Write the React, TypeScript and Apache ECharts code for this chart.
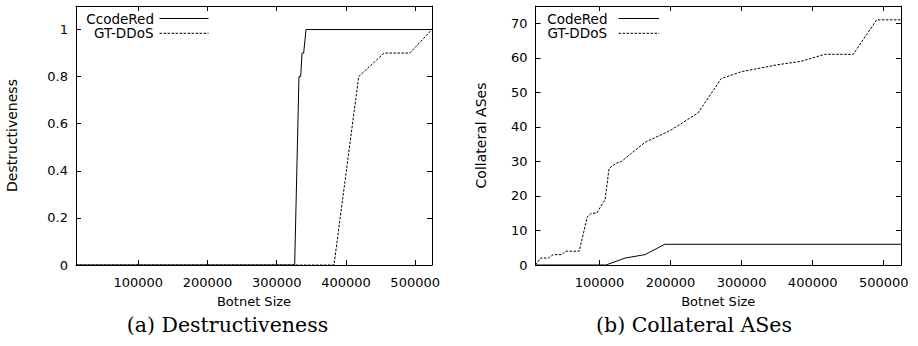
import React, { useEffect, useRef } from "react";
import * as echarts from "echarts";

// Botnet sizes span 10,000 to 2^19 hosts
const X_MIN = 10000;
const X_MAX = 524288;
const xTickValues = [100000, 200000, 300000, 400000, 500000];

// (a) Destructiveness
const destructTicks = [0, 0.2, 0.4, 0.6, 0.8, 1];
const codeRedDestructX = [10000, 325900, 332100, 334600, 336500, 338900, 342300, 524288];
const codeRedDestructY = [0, 0, 0.8, 0.8, 0.9, 0.9, 1, 1];
const ddosDestructX = [10000, 382700, 418400, 454900, 492100, 524288];
const ddosDestructY = [0, 0, 0.8, 0.9, 0.9, 1];

// (b) Collateral ASes
const collateralTicks = [0, 10, 20, 30, 40, 50, 60, 70];
const codeRedCollatX = [10000, 109000, 136000, 164000, 192000, 524288];
const codeRedCollatY = [0, 0, 2, 3, 6, 6];
const ddosCollatX = [
  10000, 17000, 28000, 35000, 47000, 52500, 71500, 83000, 89000, 96000, 108000,
  113500, 124000, 131000, 164000, 200000, 238500, 271500, 300000, 351000,
  384000, 417000, 457000, 490000, 524288,
];
const ddosCollatY = [
  0, 2, 2, 3, 3, 4, 4, 14, 15, 15, 19, 28, 29.5, 30, 35.5, 39, 44, 54, 56, 58,
  59, 61, 61, 71, 71,
];

const pairs = (xs: number[], ys: number[]) => xs.map((x, i) => [x, ys[i]]);

const SANS = "DejaVu Sans";
const DASH = [2.5, 1.5];

const axisLine = { show: true, onZero: false, lineStyle: { color: "#000", width: 1 } };
const plain = (v: number) => String(Math.round(v * 1000) / 1000);

function xAxes(gridIndex: number) {
  const tick = {
    inside: true,
    length: 5,
    customValues: xTickValues,
    lineStyle: { color: "#000", width: 1 },
  };
  return [
    {
      type: "value",
      gridIndex,
      min: X_MIN,
      max: X_MAX,
      position: "bottom",
      axisLine,
      axisTick: tick,
      splitLine: { show: false },
      axisLabel: {
        customValues: xTickValues,
        formatter: plain,
        color: "#000",
        fontFamily: SANS,
        fontSize: 13,
        margin: 11,
      },
      name: "Botnet Size",
      nameLocation: "middle",
      nameGap: 30,
      nameTextStyle: { color: "#000", fontFamily: SANS, fontSize: 13 },
    },
    {
      type: "value",
      gridIndex,
      min: X_MIN,
      max: X_MAX,
      position: "top",
      axisLine,
      axisTick: tick,
      splitLine: { show: false },
      axisLabel: { show: false },
    },
  ];
}

function yAxes(gridIndex: number, max: number, ticks: number[], title: string, gap: number) {
  const tick = {
    inside: true,
    length: 5,
    customValues: ticks,
    lineStyle: { color: "#000", width: 1 },
  };
  return [
    {
      type: "value",
      gridIndex,
      min: 0,
      max,
      position: "left",
      axisLine,
      axisTick: tick,
      splitLine: { show: false },
      axisLabel: {
        customValues: ticks,
        formatter: plain,
        color: "#000",
        fontFamily: SANS,
        fontSize: 13,
        margin: 8,
      },
      name: title,
      nameLocation: "middle",
      nameGap: gap,
      nameTextStyle: { color: "#000", fontFamily: SANS, fontSize: 14 },
    },
    {
      type: "value",
      gridIndex,
      min: 0,
      max,
      position: "right",
      axisLine,
      axisTick: tick,
      splitLine: { show: false },
      axisLabel: { show: false },
    },
  ];
}

function line(name: string, xAxisIndex: number, yAxisIndex: number, data: number[][], dashed: boolean) {
  return {
    type: "line",
    name,
    xAxisIndex,
    yAxisIndex,
    data,
    symbol: "none",
    lineStyle: { color: "#000", width: 1, type: dashed ? DASH : "solid" },
  };
}

function legendKey(textRight: number, lineLeft: number, lineRight: number, y: number, label: string, dashed: boolean) {
  return [
    {
      type: "text",
      x: textRight,
      y,
      style: {
        text: label,
        fill: "#000",
        font: `13.5px "${SANS}"`,
        textAlign: "right",
        textVerticalAlign: "middle",
      },
    },
    {
      type: "line",
      shape: { x1: lineLeft, y1: y, x2: lineRight, y2: y },
      style: { stroke: "#000", lineWidth: 1, lineDash: dashed ? DASH : null },
    },
  ];
}

function caption(x: number, text: string) {
  return {
    type: "text",
    x,
    y: 325,
    style: {
      text,
      fill: "#000",
      font: '20.5px "DejaVu Serif"',
      textAlign: "center",
      textVerticalAlign: "middle",
    },
  };
}

export default function App() {
  const ref = useRef<HTMLDivElement>(null);

  useEffect(() => {
    if (!ref.current) return;
    const chart = echarts.init(ref.current, null, { renderer: "svg" });
    chart.setOption({
      animation: false,
      backgroundColor: "#fff",
      grid: [
        { left: 76, top: 6, width: 356, height: 259 },
        { left: 535.5, top: 6, width: 365.5, height: 259 },
      ],
      xAxis: [...xAxes(0), ...xAxes(1)],
      yAxis: [
        ...yAxes(0, 1.1, destructTicks, "Destructiveness", 57),
        ...yAxes(1, 75, collateralTicks, "Collateral ASes", 48),
      ],
      series: [
        line("CcodeRed", 0, 0, pairs(codeRedDestructX, codeRedDestructY), false),
        line("GT-DDoS", 0, 0, pairs(ddosDestructX, ddosDestructY), true),
        line("CodeRed", 2, 2, pairs(codeRedCollatX, codeRedCollatY), false),
        line("GT-DDoS", 2, 2, pairs(ddosCollatX, ddosCollatY), true),
      ],
      graphic: [
        ...legendKey(154, 159.5, 208.5, 18.5, "CcodeRed", false),
        ...legendKey(153.5, 159.5, 208.5, 33.3, "GT-DDoS", true),
        ...legendKey(607.5, 618.5, 659, 18.5, "CodeRed", false),
        ...legendKey(607, 618.5, 659, 33.3, "GT-DDoS", true),
        caption(227.5, "(a) Destructiveness"),
        caption(694, "(b) Collateral ASes"),
      ],
    });
    return () => chart.dispose();
  }, []);

  return (
    <div
      ref={ref}
      style={{ position: "fixed", left: 0, top: 0, width: 918, height: 346, background: "#fff" }}
    />
  );
}
